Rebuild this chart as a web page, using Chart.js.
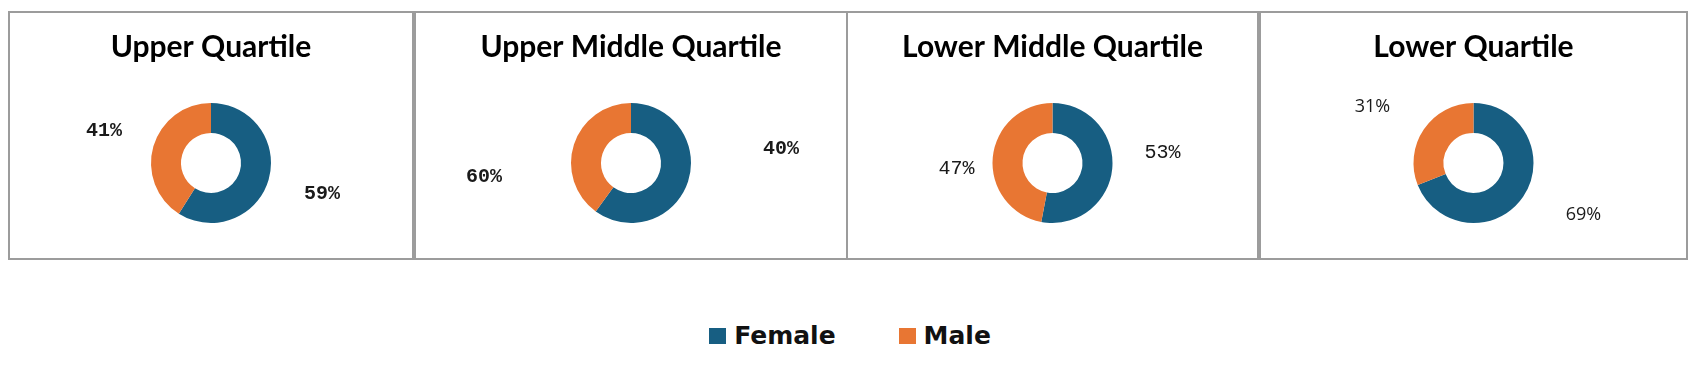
<!DOCTYPE html>
<html>
<head>
<meta charset="utf-8">
<script src="https://cdn.jsdelivr.net/npm/chart.js@4/dist/chart.umd.min.js"></script>
<style>
  html, body { margin: 0; padding: 0; background: #fff; width: 1700px; height: 377px; overflow: hidden; }
  .panel { position: absolute; box-sizing: border-box; border: 2px solid #9c9c9c; top: 11px; height: 249px; }
  .panel .wrap { position: absolute; left: 0; top: 0; right: 0; bottom: 0; }
  #legend { position: absolute; top: 321px; left: 0; width: 1700px; display: flex; justify-content: center; align-items: center;
            font-family: "DejaVu Sans", sans-serif; font-weight: bold; font-size: 25px; color: #111; }
  .li { display: flex; align-items: center; }
  .li + .li { margin-left: 63px; }
  .sw { width: 17px; height: 16px; margin-right: 8px; }
</style>
</head>
<body>
<div id="panels"></div>
<div id="legend"></div>
<script>
// ---- data ----
const quartiles = ['Upper Quartile', 'Upper Middle Quartile', 'Lower Middle Quartile', 'Lower Quartile'];
const seriesNames = ['Female', 'Male'];
const femaleValues = [59, 60, 53, 69];
const maleValues = [41, 40, 47, 31];
const femaleLabels = ['59%', '40%', '53%', '69%'];
const maleLabels = ['41%', '60%', '47%', '31%'];

// ---- styling ----
const colors = ['#175E82', '#E87633'];
const panelBoxes = [[8, 406], [414, 434], [846, 413], [1259, 429]];
// label offsets from the doughnut centre [female, male]
const labelOffsets = [
  [[111, 31], [-107, -32]],
  [[150, -14], [-147, 14]],
  [[110, -10], [-96, 6]],
  [[110, 52], [-101, -56]]
];
const labelFonts = [
  'bold 20px "Liberation Mono"',
  'bold 20px "Liberation Mono"',
  'normal 20px "Liberation Mono"',
  'normal 18px "Open Sans"'
];

const labelPlugin = {
  id: 'sliceLabels',
  afterDraw(chart) {
    const i = chart.options.plugins.sliceLabels.index;
    const arc = chart.getDatasetMeta(0).data[0];
    const cx = arc.x, cy = arc.y;
    const ctx = chart.ctx;
    ctx.save();
    ctx.font = labelFonts[i];
    ctx.fillStyle = '#1a1a1a';
    ctx.textAlign = 'center';
    ctx.textBaseline = 'middle';
    const texts = [femaleLabels[i], maleLabels[i]];
    texts.forEach((t, k) => {
      ctx.fillText(t, cx + labelOffsets[i][k][0], cy + labelOffsets[i][k][1]);
    });
    ctx.restore();
  }
};

const panelsEl = document.getElementById('panels');
quartiles.forEach((q, i) => {
  const p = document.createElement('div');
  p.className = 'panel';
  p.style.left = panelBoxes[i][0] + 'px';
  p.style.width = panelBoxes[i][1] + 'px';
  const w = document.createElement('div');
  w.className = 'wrap';
  const c = document.createElement('canvas');
  w.appendChild(c);
  p.appendChild(w);
  panelsEl.appendChild(p);

  new Chart(c, {
    type: 'doughnut',
    data: {
      labels: seriesNames,
      datasets: [{
        data: [femaleValues[i], maleValues[i]],
        backgroundColor: colors,
        borderWidth: 0,
        hoverOffset: 0,
        offset: 0
      }]
    },
    options: {
      responsive: true,
      maintainAspectRatio: false,
      animation: false,
      events: [],
      cutout: '50%',
      layout: { padding: { top: 0, bottom: 35, left: 0, right: 0 } },
      plugins: {
        legend: { display: false },
        tooltip: { enabled: false },
        title: {
          display: true,
          text: q,
          color: '#000',
          font: { family: 'Lato', weight: 'bold', size: 30, lineHeight: 1.2 },
          padding: { top: 16, bottom: 38 }
        },
        sliceLabels: { index: i }
      }
    },
    plugins: [labelPlugin]
  });
});

const lg = document.getElementById('legend');
seriesNames.forEach((n, k) => {
  const li = document.createElement('div');
  li.className = 'li';
  const sw = document.createElement('div');
  sw.className = 'sw';
  sw.style.background = colors[k];
  const tx = document.createElement('span');
  tx.textContent = n;
  li.appendChild(sw);
  li.appendChild(tx);
  lg.appendChild(li);
});
</script>
</body>
</html>
